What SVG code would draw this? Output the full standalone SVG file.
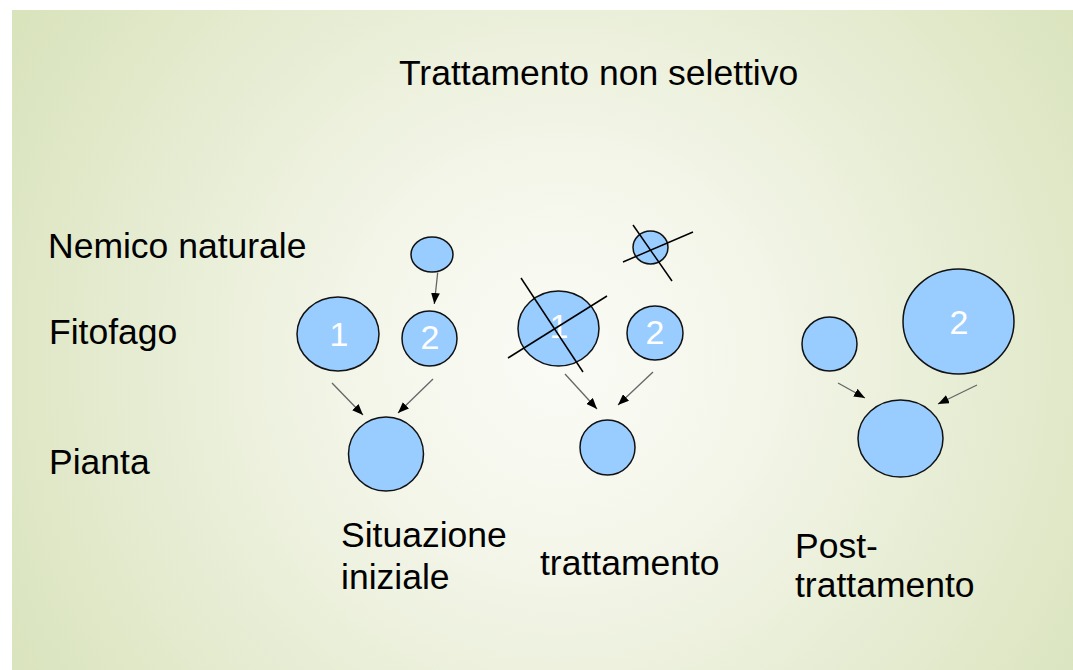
<svg xmlns="http://www.w3.org/2000/svg" width="1073" height="670" viewBox="0 0 1073 670">
<defs>
<radialGradient id="bg" cx="560" cy="360" r="640" gradientUnits="userSpaceOnUse">
<stop offset="0" stop-color="#fbfbf6"/>
<stop offset="0.3" stop-color="#f4f6ea"/>
<stop offset="1" stop-color="#d9e3bc"/>
</radialGradient>
<marker id="ah" viewBox="0 0 10 8" refX="10" refY="4" markerWidth="11" markerHeight="9" markerUnits="userSpaceOnUse" orient="auto">
<path d="M0,0 L10,4 L0,8 Z" fill="#000"/>
</marker>
<style>
.t{font-family:"Liberation Sans",Arial,sans-serif;font-size:35.5px;fill:#000}
.n{font-family:"Liberation Sans",Arial,sans-serif;font-size:34px;fill:#fff;text-anchor:middle}
.c{fill:#99ccff;stroke:#111;stroke-width:1.5}
.a{stroke:#666;stroke-width:1.3;fill:none;marker-end:url(#ah)}
.x{stroke:#000;stroke-width:1.5}
</style>
</defs>
<rect x="0" y="0" width="1073" height="670" fill="#fff"/>
<rect x="12" y="10" width="1061" height="660" fill="url(#bg)"/>
<text class="t" x="399" y="85">Trattamento non selettivo</text>
<g id="labels">
<text class="t" x="48" y="258">Nemico naturale</text>
<text class="t" x="49" y="344">Fitofago</text>
<text class="t" x="49" y="474">Pianta</text>
<text class="t" x="341" y="547">Situazione</text>
<text class="t" x="341" y="589">iniziale</text>
<text class="t" x="540" y="575">trattamento</text>
<text class="t" x="795" y="558">Post-</text>
<text class="t" x="795" y="597">trattamento</text>
</g>
<g id="s1-nemico"><ellipse class="c" cx="432" cy="254.5" rx="21" ry="17.5"/></g>
<g id="s1-fitofago1"><ellipse class="c" cx="338" cy="334" rx="41" ry="37"/><text class="n" x="339" y="346">1</text></g>
<g id="s1-fitofago2"><ellipse class="c" cx="429.5" cy="338.5" rx="27.5" ry="27.5"/><text class="n" x="430" y="349">2</text></g>
<g id="s1-pianta"><ellipse class="c" cx="386" cy="454" rx="37.5" ry="37"/></g>
<g id="s2-nemico"><ellipse class="c" cx="650.5" cy="247.5" rx="17.5" ry="16.5"/><line class="x" x1="633" y1="225" x2="672" y2="281"/><line class="x" x1="623" y1="262" x2="693" y2="232"/></g>
<g id="s2-fitofago1"><ellipse class="c" cx="558.5" cy="328.5" rx="40.5" ry="37.5"/><text class="n" x="559" y="338">1</text><line class="x" x1="521" y1="278" x2="583" y2="372"/><line class="x" x1="508" y1="358" x2="607" y2="296"/></g>
<g id="s2-fitofago2"><ellipse class="c" cx="655" cy="333" rx="28" ry="27"/><text class="n" x="655" y="344">2</text></g>
<g id="s2-pianta"><ellipse class="c" cx="607.5" cy="447.5" rx="27.5" ry="27.5"/></g>
<g id="s3-fitofago1"><ellipse class="c" cx="829.5" cy="344" rx="27.5" ry="27"/></g>
<g id="s3-fitofago2"><ellipse class="c" cx="958.5" cy="321.5" rx="55.5" ry="52.5"/><text class="n" x="959" y="334">2</text></g>
<g id="s3-pianta"><ellipse class="c" cx="900.5" cy="438.5" rx="42.5" ry="38.5"/></g>
<g id="connectors">
<line class="a" x1="437.7" y1="272.5" x2="434.3" y2="304"/>
<line class="a" x1="332" y1="383" x2="363" y2="415"/>
<line class="a" x1="433" y1="379" x2="398" y2="413"/>
<line class="a" x1="565" y1="374" x2="597" y2="409"/>
<line class="a" x1="653" y1="372" x2="618" y2="405"/>
<line class="a" x1="838" y1="383" x2="865" y2="398"/>
<line class="a" x1="977" y1="385" x2="938" y2="404"/>
</g>
</svg>
